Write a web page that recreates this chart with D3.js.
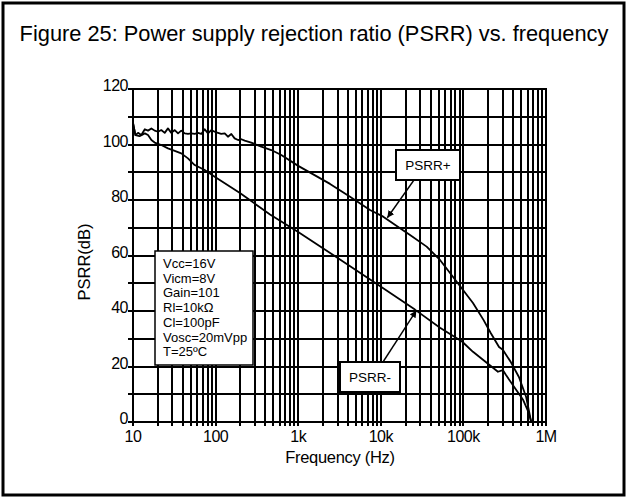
<!DOCTYPE html>
<html>
<head>
<meta charset="utf-8">
<script src="https://cdn.jsdelivr.net/npm/d3@7"></script>
<style>
  body { margin: 0; background: #fff; }
  text { font-family: "Liberation Sans", Arial, sans-serif; fill: #000; }
</style>
</head>
<body>
<div id="chart"></div>
<script>
// values
var titleText = "Figure 25: Power supply rejection ratio (PSRR) vs. frequency";

var plusFreq = [10, 10.7, 11.5, 12.6, 13.9, 15.2, 16.7, 18.3, 20.1, 22, 24.2, 26.5, 29.1, 32, 35.1, 38.4,
  42.3, 46.3, 50.8, 55.8, 61.2, 67.1, 73.8, 80.9, 88.7, 97.5, 107, 117, 129, 141, 155, 170, 187, 205,
  225, 270, 357, 472, 624, 1000, 2430, 4240, 7400, 10700, 17100, 22600, 35900, 52100, 68900, 130600,
  175000, 215000, 270000, 300000, 375000, 470000, 575000, 630000, 660000];
var plusDb = [107.8, 103.4, 104.2, 103.4, 105.5, 105, 105.8, 105, 104.6, 105.2, 104.2, 105.8, 104.2, 105.2,
  104, 105, 104, 103.8, 104, 103.8, 104.2, 103.8, 105.5, 104, 105.2, 104.6, 104.2, 103.8, 104, 102.8,
  103.8, 102.2, 101.6, 101.9, 101.4, 100.7, 99.2, 98, 96.2, 92.3, 85.8, 81.2, 76.4, 74, 69.8, 67.4,
  63.2, 58.4, 53.7, 42.9, 36.8, 32, 27, 26, 21.6, 16.2, 9, 3.2, 0];

var minusFreq = [10, 10.7, 12, 13.9, 15.2, 16.7, 18.3, 22, 26.5, 32, 38.4, 46.3, 55.8, 73.8, 97.5, 197,
  456, 1000, 2710, 9250, 25900, 52100, 96200, 130600, 185000, 262000, 300000, 328000, 410000,
  530000, 610000, 665000];
var minusDb = [107.8, 103.4, 103, 104, 103.4, 101.6, 100.7, 99.8, 98.6, 97.7, 96.8, 95, 92.6, 90.8, 88.4,
  82.5, 74.8, 68.5, 60, 49.5, 40.5, 34, 29, 25.3, 21.7, 18.1, 18.7, 16.9, 12.7, 7.9, 3.7, 0];

var xTickValues = [10, 100, 1e3, 1e4, 1e5, 1e6];
var xTickLabels = ["10", "100", "1k", "10k", "100k", "1M"];
var yTickValues = [0, 20, 40, 60, 80, 100, 120];
var conditions = ["Vcc=16V", "Vicm=8V", "Gain=101", "Rl=10k\u03A9", "Cl=100pF", "Vosc=20mVpp", "T=25\u00BAC"];

var width = 629;
var height = 499;

var svg = d3.select("#chart")
  .append("svg")
  .attr("width", width)
  .attr("height", height);

// outer frame
svg.append("rect")
  .attr("x", 3).attr("y", 3)
  .attr("width", 621).attr("height", 492)
  .attr("fill", "#fff")
  .attr("stroke", "#000")
  .attr("stroke-width", 3);

svg.append("text")
  .attr("x", 314).attr("y", 41)
  .attr("text-anchor", "middle")
  .style("font-size", "21.8px")
  .text(titleText);

var x = d3.scaleLog().domain([10, 1e6]).range([133, 546]);
var y = d3.scaleLinear().domain([0, 120]).range([422, 89]);

// grid lines: every 1..9 of each decade, every 10 dB
var vLines = [];
for (var e = 1; e <= 5; e++) {
  for (var k = 1; k <= 9; k++) vLines.push(k * Math.pow(10, e));
}
vLines.push(1e6);
var hLines = d3.range(0, 121, 10);

// snap to whole pixels so the 2px lines stay solid black
var grid = svg.append("g");
grid.selectAll(".v")
  .data(vLines)
  .enter()
  .append("line")
  .attr("x1", function(d) { return Math.round(x(d)); })
  .attr("x2", function(d) { return Math.round(x(d)); })
  .attr("y1", Math.round(y(120)))
  .attr("y2", Math.round(y(0)) + 4)
  .attr("stroke", "#000")
  .attr("stroke-width", 2);

grid.selectAll(".h")
  .data(hLines)
  .enter()
  .append("line")
  .attr("x1", Math.round(x(10)) - 5)
  .attr("x2", Math.round(x(1e6)) + 1)
  .attr("y1", function(d) { return Math.round(y(d)); })
  .attr("y2", function(d) { return Math.round(y(d)); })
  .attr("stroke", "#000")
  .attr("stroke-width", 2);

// tick labels
svg.selectAll(".xl")
  .data(xTickValues)
  .enter()
  .append("text")
  .attr("x", function(d) { return x(d); })
  .attr("y", 442)
  .attr("text-anchor", "middle")
  .style("font-size", "16px")
  .style("letter-spacing", "-0.5px")
  .text(function(d, i) { return xTickLabels[i]; });

svg.selectAll(".yl")
  .data(yTickValues)
  .enter()
  .append("text")
  .attr("x", 128)
  .attr("y", function(d) { return y(d) + 2; })
  .attr("text-anchor", "end")
  .style("font-size", "16px")
  .style("letter-spacing", "-0.5px")
  .text(function(d) { return d; });

svg.append("text")
  .attr("x", 340).attr("y", 463)
  .attr("text-anchor", "middle")
  .style("font-size", "16.5px")
  .style("letter-spacing", "-0.3px")
  .text("Frequency (Hz)");

svg.append("text")
  .attr("transform", "translate(90,262) rotate(-90)")
  .attr("text-anchor", "middle")
  .style("font-size", "16.5px")
  .text("PSRR(dB)");

// curves
var line = d3.line()
  .x(function(d) { return x(d[0]); })
  .y(function(d) { return y(d[1]); });

var plusData = plusFreq.map(function(f, i) { return [f, plusDb[i]]; });
var minusData = minusFreq.map(function(f, i) { return [f, minusDb[i]]; });

[plusData, minusData].forEach(function(data) {
  svg.append("path")
    .datum(data)
    .attr("d", line)
    .attr("fill", "none")
    .attr("stroke", "#000")
    .attr("stroke-width", 1.8)
    .attr("stroke-linejoin", "round");
});

// conditions box
var cond = svg.append("g");
cond.append("rect")
  .attr("x", 155).attr("y", 251)
  .attr("width", 98).attr("height", 114)
  .attr("fill", "#fff")
  .attr("stroke", "#000")
  .attr("stroke-width", 1.5);
cond.selectAll("text")
  .data(conditions)
  .enter()
  .append("text")
  .attr("x", 163)
  .attr("y", function(d, i) { return 268 + i * 14.7; })
  .style("font-size", "13px")
  .text(function(d) { return d; });

// arrow marker
svg.append("defs").append("marker")
  .attr("id", "arrow")
  .attr("viewBox", "0 0 10 10")
  .attr("refX", 10).attr("refY", 5)
  .attr("markerWidth", 7).attr("markerHeight", 7)
  .attr("markerUnits", "userSpaceOnUse")
  .attr("orient", "auto")
  .append("path")
  .attr("d", "M0,0L10,5L0,10z")
  .attr("fill", "#000");

function callout(bx, by, bw, bh, label, fromX, fromY, toX, toY) {
  svg.append("line")
    .attr("x1", fromX).attr("y1", fromY)
    .attr("x2", toX).attr("y2", toY)
    .attr("stroke", "#000")
    .attr("stroke-width", 1.4)
    .attr("marker-end", "url(#arrow)");
  svg.append("rect")
    .attr("x", bx).attr("y", by)
    .attr("width", bw).attr("height", bh)
    .attr("fill", "#fff")
    .attr("stroke", "#000")
    .attr("stroke-width", 2);
  svg.append("text")
    .attr("x", bx + bw / 2).attr("y", by + bh / 2 + 5)
    .attr("text-anchor", "middle")
    .style("font-size", "13.5px")
    .text(label);
}

callout(396, 150, 64, 30, "PSRR+", 414, 180, x(12000), y(73.6));
callout(340, 362, 60, 30, "PSRR-", 383, 362, x(27000), y(40.2));
</script>
</body>
</html>
